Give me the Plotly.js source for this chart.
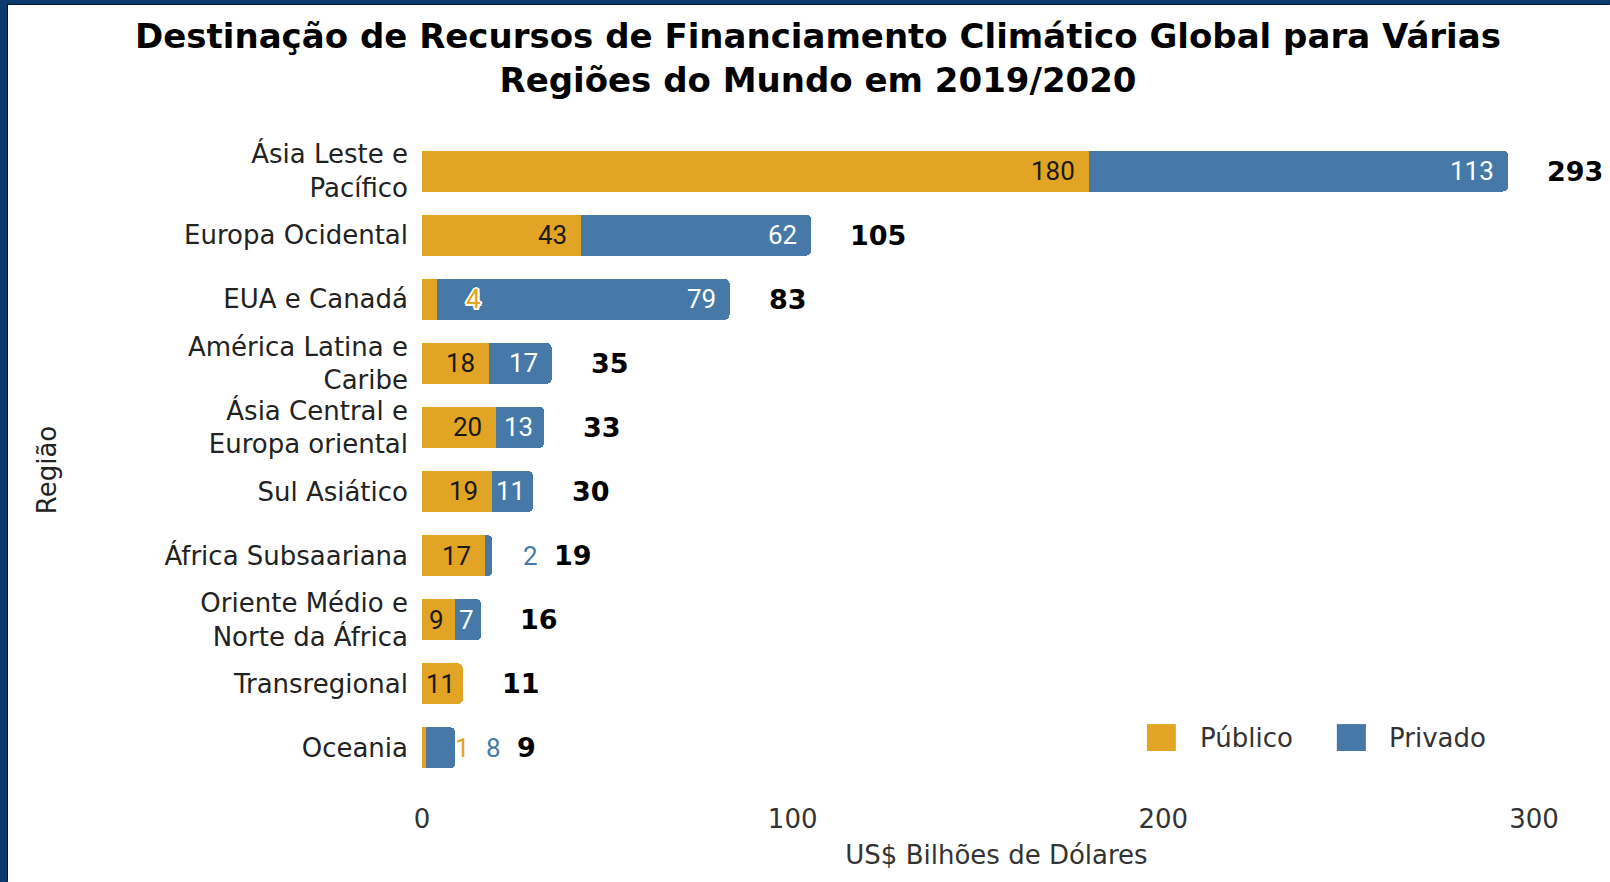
<!DOCTYPE html>
<html><head><meta charset="utf-8">
<script src="https://cdn.plot.ly/plotly-3.0.1.min.js"></script>
<style>
html,body{margin:0;padding:0;background:#0c3a6e;width:1610px;height:882px;overflow:hidden;}
#chart{position:absolute;left:8px;top:5px;width:1602px;height:877px;background:#fff;box-shadow:-1px -1px 0 #05152a;}
</style></head><body><div id="chart"></div>
<script>
const regions = ["Ásia Leste e<br>Pacífico", "Europa Ocidental", "EUA e Canadá", "América Latina e<br>Caribe",
  "Ásia Central e<br>Europa oriental", "Sul Asiático", "África Subsaariana", "Oriente Médio e<br>Norte da África",
  "Transregional", "Oceania"];
const publico = [180, 43, 4, 18, 20, 19, 17, 9, 11, 1];
const privado = [113, 62, 79, 17, 13, 11, 2, 7, 0, 8];
const totals  = [293, 105, 83, 35, 33, 30, 19, 16, 11, 9];
const xTicks = [0, 100, 200, 300];
const seriesNames = ["Público", "Privado"];

// label placement style: which segment labels sit outside their bar
const pubOutside  = [false, false, true, false, false, false, false, false, false, true];
const privOutside = [false, false, false, false, false, false, true, false, false, true];

const COL_PUB = "#E2A424", COL_PRIV = "#4679A8";
const FONT = "DejaVu Sans";
const X_RANGE = [0, 310];
const M = {l: 414, r: 38.8, t: 133.5, b: 81, pad: 0};
const W = 1602, H = 877;
const pxPerUnit = (W - M.l - M.r) / (X_RANGE[1] - X_RANGE[0]);
const LABEL_SIZE = 26, DIGIT_W = 0.562 * LABEL_SIZE;

const traces = [
  {type: "bar", orientation: "h", name: seriesNames[0], y: regions, x: publico,
   marker: {color: COL_PUB}, width: 0.64, hoverinfo: "x+y"},
  {type: "bar", orientation: "h", name: seriesNames[1], y: regions, x: privado,
   marker: {color: COL_PRIV}, width: 0.64, hoverinfo: "x+y"}
];

// inside label: right-aligned 12px from the segment end, but kept centred when the segment is narrow
function insideShift(val, txt) {
  const segPx = val * pxPerUnit, w = txt.length * DIGIT_W;
  return -Math.min(12, Math.max(0, (segPx - w) / 2));
}

const ann = [];
const outline = "2px 0 0 #fff, -2px 0 0 #fff, 0 2px 0 #fff, 0 -2px 0 #fff, 1.5px 1.5px 0 #fff, -1.5px -1.5px 0 #fff, 1.5px -1.5px 0 #fff, -1.5px 1.5px 0 #fff";
regions.forEach((r, i) => {
  if (publico[i] > 0) {
    const t = String(publico[i]);
    if (!pubOutside[i]) {
      ann.push({x: publico[i], y: r, text: t, showarrow: false, xanchor: "right", xshift: insideShift(publico[i], t),
        font: {family: "Roboto", size: LABEL_SIZE, color: "#1a1a1a"}});
    } else {
      ann.push({x: publico[i], y: r, text: t, showarrow: false, xanchor: "center", xshift: 37,
        font: {family: "Roboto", size: LABEL_SIZE, color: COL_PUB, shadow: outline}});
    }
  }
  if (privado[i] > 0) {
    const end = publico[i] + privado[i];
    const t = String(privado[i]);
    if (!privOutside[i]) {
      ann.push({x: end, y: r, text: t, showarrow: false, xanchor: "right", xshift: insideShift(privado[i], t),
        font: {family: "Roboto", size: LABEL_SIZE, color: "#ffffff"}});
    } else {
      ann.push({x: end, y: r, text: t, showarrow: false, xanchor: "center", xshift: 38,
        font: {family: "Roboto", size: LABEL_SIZE, color: COL_PRIV}});
    }
  }
  ann.push({x: totals[i], y: r, text: String(totals[i]), showarrow: false, xanchor: "left",
    xshift: privOutside[i] ? 60 : 37,
    font: {family: FONT, size: 27, color: "#000", weight: 700}});
});

// custom legend (large swatches)
const shapes = [
  {type: "rect", xref: "paper", yref: "paper", x0: 0.6309, x1: 0.6561, y0: 0.0755, y1: 0.1162,
   fillcolor: COL_PUB, line: {width: 0}},
  {type: "rect", xref: "paper", yref: "paper", x0: 0.7962, x1: 0.8215, y0: 0.0755, y1: 0.1162,
   fillcolor: COL_PRIV, line: {width: 0}}
];
ann.push({xref: "paper", yref: "paper", x: 0.6753, y: 0.0958, xanchor: "left", yanchor: "middle",
  text: seriesNames[0], showarrow: false, font: {family: FONT, size: 26, color: "#333"}});
ann.push({xref: "paper", yref: "paper", x: 0.8397, y: 0.0958, xanchor: "left", yanchor: "middle",
  text: seriesNames[1], showarrow: false, font: {family: FONT, size: 26, color: "#333"}});

const layout = {
  width: W, height: H,
  margin: M,
  paper_bgcolor: "#ffffff", plot_bgcolor: "#ffffff",
  barmode: "stack", barcornerradius: 5, showlegend: false,
  title: {text: "Destinação de Recursos de Financiamento Climático Global para Várias<br>Regiões do Mundo em 2019/2020",
    x: 810 / W, xanchor: "center", y: 0.951, yanchor: "top", yref: "container",
    font: {family: FONT, size: 34, color: "#000", weight: 700}},
  xaxis: {range: X_RANGE, tickvals: xTicks, ticktext: xTicks.map(String), showgrid: false, zeroline: false,
    showline: false, ticks: "", tickfont: {family: FONT, size: 26, color: "#333"},
    title: {text: "US$ Bilhões de Dólares", font: {family: FONT, size: 26, color: "#333"}, standoff: 12}},
  yaxis: {type: "category", categoryorder: "array", categoryarray: regions, range: [9.83, -0.5],
    showgrid: false, zeroline: false, showline: false, ticks: "", ticklabelstandoff: 13,
    tickfont: {family: FONT, size: 26, color: "#222"},
    title: {text: "Região", font: {family: FONT, size: 26, color: "#222"}, standoff: 100}},
  annotations: ann, shapes: shapes
};

Plotly.newPlot("chart", traces, layout, {displayModeBar: false, staticPlot: true});
</script></body></html>
